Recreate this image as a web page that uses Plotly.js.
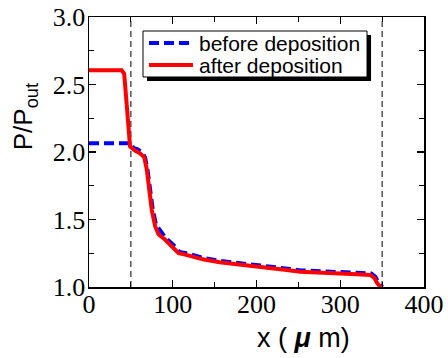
<!DOCTYPE html>
<html>
<head>
<meta charset="utf-8">
<script src="https://cdn.plot.ly/plotly-3.0.1.min.js"></script>
<style>html,body{margin:0;padding:0;background:#fff;}#chart{width:448px;height:358px;}</style>
</head>
<body>
<div id="chart"></div>
<script>
// Pressure ratio P/Pout along x (µm)
var xBefore = [0, 50, 53, 58, 63, 67, 70, 73, 76, 80, 85, 92, 101, 108, 116, 122, 137, 157, 177, 197, 217, 237, 253, 280, 300, 320, 337, 342, 345, 348, 351];
var yBefore = [2.065, 2.065, 2.03, 2.02, 2.00, 1.96, 1.86, 1.72, 1.58, 1.46, 1.42, 1.36, 1.31, 1.26, 1.25, 1.24, 1.215, 1.193, 1.18, 1.166, 1.149, 1.136, 1.123, 1.118, 1.11, 1.105, 1.10, 1.075, 1.04, 1.01, 1.0];
var xAfter = [0, 39, 42, 45, 47, 49, 55, 61, 66, 69, 72, 75, 79, 83, 91, 99, 107, 115, 121, 136, 156, 176, 196, 216, 236, 252, 280, 300, 320, 336, 341, 344, 348, 351];
var yAfter = [2.605, 2.605, 2.58, 2.39, 2.20, 2.04, 2.01, 1.99, 1.96, 1.87, 1.72, 1.57, 1.45, 1.39, 1.35, 1.30, 1.25, 1.24, 1.23, 1.205, 1.183, 1.17, 1.156, 1.139, 1.126, 1.113, 1.109, 1.10, 1.094, 1.089, 1.065, 1.03, 1.0, 1.0];
var seriesNames = ["before deposition", "after deposition"];
var seriesColors = ["#0000ff", "#ff0000"];
var boundaries = [50, 350];
var xTicks = [0, 100, 200, 300, 400];
var xTickText = ["0", "100", "200", "300", "400"];
var yTicks = [1, 1.5, 2, 2.5, 3];
var yTickText = ["1.0", "1.5", "2.0", "2.5", "3.0"];

var SERIF = "\"Liberation Serif\", \"Times New Roman\", Times, serif";
var SANS = "\"Liberation Sans\", Arial, Helvetica, sans-serif";

var traces = [
  {x: xBefore, y: yBefore, name: seriesNames[0], mode: "lines", showlegend: false,
   line: {color: seriesColors[0], width: 4, dash: "10px,5px"}},
  {x: xAfter, y: yAfter, name: seriesNames[1], mode: "lines", showlegend: false,
   line: {color: seriesColors[1], width: 4}}
];

var shapes = boundaries.map(function (b) {
  return {type: "line", xref: "x", yref: "paper", x0: b, x1: b, y0: 0, y1: 1,
          line: {color: "#000", width: 1, dash: "6px,4px"}, layer: "below"};
});

// legend box drawn with shapes + annotations (paper fractions)
var legBox = {x0: 0.1612, x1: 0.8299, y0: 0.7778, y1: 0.9481};
var shadow = 0.012;
shapes.push({type: "rect", xref: "paper", yref: "paper",
  x0: legBox.x0 + shadow, x1: legBox.x1 + shadow, y0: legBox.y0 - shadow * 335 / 270, y1: legBox.y1 - shadow * 335 / 270,
  fillcolor: "#000", line: {width: 0}, layer: "above"});
shapes.push({type: "rect", xref: "paper", yref: "paper",
  x0: legBox.x0, x1: legBox.x1, y0: legBox.y0, y1: legBox.y1,
  fillcolor: "#fff", line: {color: "#000", width: 1}, layer: "above"});
var legRowsY = [0.9037, 0.8222];
var legDash = ["10px,5px", "solid"];
var annotations = [];
seriesNames.forEach(function (n, i) {
  shapes.push({type: "line", xref: "paper", yref: "paper", x0: 0.1791, x1: 0.3104,
    y0: legRowsY[i], y1: legRowsY[i], line: {color: seriesColors[i], width: 4, dash: legDash[i]}, layer: "above"});
  annotations.push({text: n, xref: "paper", yref: "paper", x: 0.322, y: legRowsY[i],
    xanchor: "left", yanchor: "middle", showarrow: false,
    font: {family: SANS, size: 21, color: "#000"}});
});

annotations.push({text: "x ( <b><i>μ</i></b> m)", xref: "paper", yref: "paper", x: 0.641, y: -0.19,
  xanchor: "center", yanchor: "middle", showarrow: false,
  font: {family: SANS, size: 27, color: "#000"}});
annotations.push({text: "P/P<sub>out</sub>", xref: "paper", yref: "paper", x: -0.19, y: 0.63,
  xanchor: "center", yanchor: "middle", showarrow: false, textangle: -90,
  font: {family: SANS, size: 26, color: "#000"}});

function axisBase() {
  return {
    showgrid: false, zeroline: false, showline: true, linecolor: "#000", linewidth: 1.5,
    mirror: "allticks", ticks: "inside", ticklen: 7, tickwidth: 1.2, tickcolor: "#000",
    tickfont: {family: SERIF, size: 26, color: "#000"}
  };
}

var xaxis = axisBase();
xaxis.range = [0, 400];
xaxis.tickmode = "array";
xaxis.tickvals = xTicks;
xaxis.ticktext = xTickText;
xaxis.ticklabelstandoff = -7;
xaxis.minor = {dtick: 50, ticks: "inside", ticklen: 5, tickcolor: "#000", tickwidth: 1.2};

var yaxis = axisBase();
yaxis.range = [1, 3];
yaxis.tickmode = "array";
yaxis.tickvals = yTicks;
yaxis.ticktext = yTickText;
yaxis.ticklabelstandoff = -3;
yaxis.minor = {dtick: 0.25, ticks: "inside", ticklen: 5, tickcolor: "#000", tickwidth: 1.2};

var layout = {
  width: 448, height: 358,
  margin: {l: 89, r: 24, t: 17, b: 71},
  paper_bgcolor: "#fff", plot_bgcolor: "#fff",
  font: {family: SERIF, size: 26, color: "#000"},
  showlegend: false,
  xaxis: xaxis, yaxis: yaxis,
  shapes: shapes,
  annotations: annotations
};

var config = {staticPlot: true, displayModeBar: false};
Plotly.newPlot("chart", traces, layout, config);
if (document.fonts && document.fonts.load) {
  Promise.all([
    document.fonts.load("26px \"Liberation Serif\""),
    document.fonts.load("26px \"Liberation Sans\"")
  ]).then(function () { return document.fonts.ready; }).then(function () {
    Plotly.newPlot("chart", traces, layout, config);
  });
}
</script>
</body>
</html>
